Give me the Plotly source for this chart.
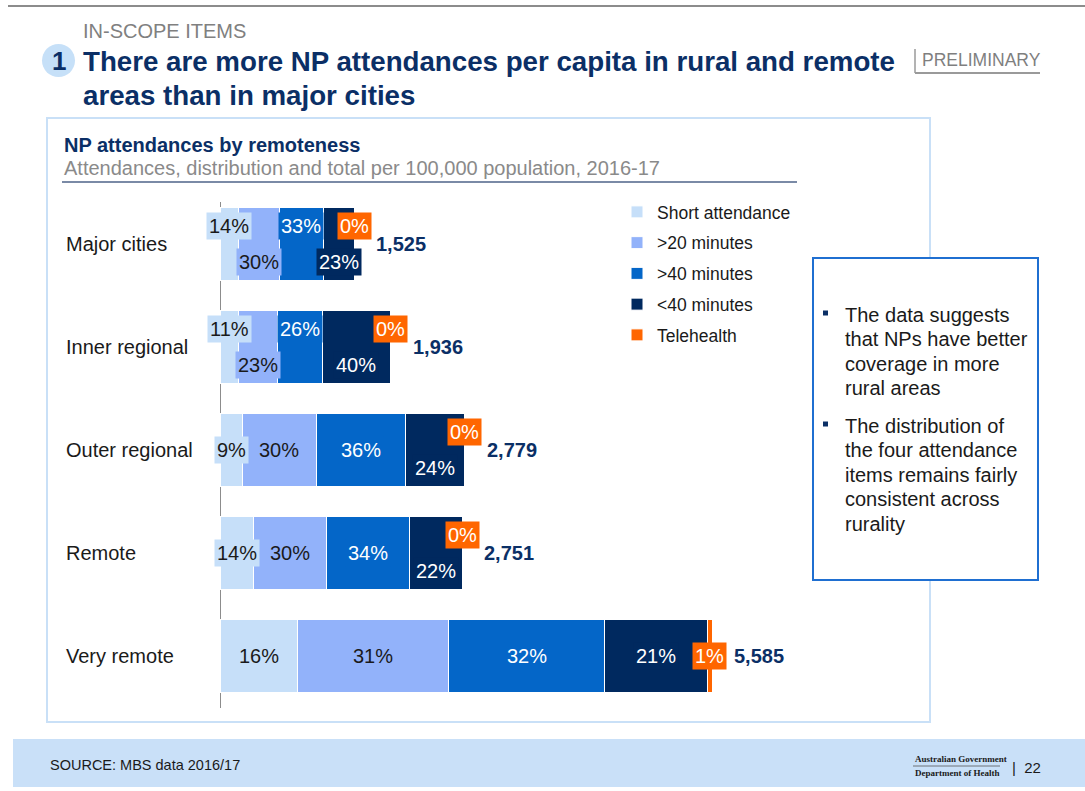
import plotly.graph_objects as go

# ---------------- data ----------------
categories = ["Major cities", "Inner regional", "Outer regional", "Remote", "Very remote"]
totals = [1525, 1936, 2779, 2751, 5585]
series_names = ["Short attendance", ">20 minutes", ">40 minutes", "<40 minutes", "Telehealth"]
short_pct = [14, 11, 9, 14, 16]
min20_pct = [30, 23, 30, 30, 31]
min40_pct = [33, 26, 36, 34, 32]
lt40_pct = [23, 40, 24, 22, 21]
tele_pct = [0, 0, 0, 0, 1]
series_pcts = [short_pct, min20_pct, min40_pct, lt40_pct, tele_pct]

# ---------------- style ----------------
colors = ["#c6dff9", "#92b2fa", "#0466c8", "#00295f", "#ff6600"]
label_font_colors = ["#1a1a1a", "#1a1a1a", "white", "white", "white"]
NAVY = "#0b2f66"
FONT = "Liberation Sans, Arial, sans-serif"
# label vertical placement per category per series: -1 top, 0 middle, +1 bottom
placement = [
    [-1, 1, -1, 1, -1],
    [-1, 1, -1, 1, -1],
    [0, 0, 0, 1, -1],
    [0, 0, 0, 1, -1],
    [0, 0, 0, 0, 0],
]

W, H = 1085, 791
def px(x):
    return x / W
def py(y):
    return 1 - y / H

# axis geometry (pixels)
X0_PX, XMAX_PX, X_DOM_END_PX = 220, 712, 940
ymax = max(totals)
x_range_max = ymax * (X_DOM_END_PX - X0_PX) / (XMAX_PX - X0_PX)

fig = go.Figure()

# segment widths from percentage shares of each total
seg_values = []
for i in range(len(categories)):
    s = sum(p[i] for p in series_pcts)
    seg_values.append([p[i] / s * totals[i] for p in series_pcts])

for j, name in enumerate(series_names):
    fig.add_trace(go.Bar(
        y=categories,
        x=[seg_values[i][j] for i in range(len(categories))],
        orientation="h",
        name=name,
        legendgroup=name,
        marker=dict(color=colors[j], line=dict(color="white", width=1)),
        width=0.7,
        hoverinfo="skip",
    ))

annotations = []
shapes = []

def ptext(x, y, text, size, color, xanchor="left", family=FONT):
    annotations.append(dict(x=px(x), y=py(y), xref="paper", yref="paper", text=text, showarrow=False,
                            xanchor=xanchor, yanchor="middle",
                            font=dict(family=family, size=size, color=color)))

# segment labels
for i, cat in enumerate(categories):
    cum = 0
    for j in range(len(series_names)):
        v = seg_values[i][j]
        mid = cum + v / 2
        cum += v
        annotations.append(dict(
            x=mid, y=cat, xref="x", yref="y",
            text=f"{series_pcts[j][i]}%",
            showarrow=False, xanchor="center", yanchor="middle",
            font=dict(family=FONT, size=20, color=label_font_colors[j]),
            bgcolor=colors[j], borderpad=2,
            yshift=-18 * placement[i][j],
        ))
    # total label
    annotations.append(dict(
        x=totals[i], y=cat, xref="x", yref="y",
        text=f"<b>{totals[i]:,}</b>", showarrow=False, xanchor="left", yanchor="middle", xshift=20,
        font=dict(family=FONT, size=20, color=NAVY),
    ))
    # category label
    annotations.append(dict(
        x=px(64), y=cat, xref="paper", yref="y", xanchor="left", yanchor="middle",
        text=cat, showarrow=False,
        font=dict(family=FONT, size=20, color="#1a1a1a"),
    ))

# top rule
shapes.append(dict(type="line", xref="paper", yref="paper", x0=px(8), x1=px(1085), y0=py(6), y1=py(6),
                   line=dict(color="#8c8c8c", width=2)))
# number circle
shapes.append(dict(type="circle", xref="paper", yref="paper", x0=px(42), x1=px(75), y0=py(44), y1=py(77),
                   fillcolor="#c6e0f8", line=dict(width=0)))
ptext(58.5, 61, "<b>1</b>", 26, NAVY, xanchor="center")
ptext(81, 31, "IN-SCOPE ITEMS", 20, "#808080")
title_lines = ["There are more NP attendances per capita in rural and remote", "areas than in major cities"]
for k, t in enumerate(title_lines):
    ptext(81, 61 + 34 * k, f"<b>{t}</b>", 27.7, NAVY)
# PRELIMINARY tag
ptext(920, 60, "PRELIMINARY", 17.5, "#7f7f7f")
shapes.append(dict(type="line", xref="paper", yref="paper", x0=px(915), x1=px(915), y0=py(49), y1=py(73),
                   line=dict(color="#9a9a9a", width=1.5)))
shapes.append(dict(type="line", xref="paper", yref="paper", x0=px(915), x1=px(1040), y0=py(73), y1=py(73),
                   line=dict(color="#9a9a9a", width=2)))

# chart panel
shapes.append(dict(type="rect", xref="paper", yref="paper", x0=px(47), x1=px(930), y0=py(118), y1=py(722),
                   line=dict(color="#c9e0f7", width=2), layer="below"))
ptext(62, 145, "<b>NP attendances by remoteness</b>", 20, NAVY)
ptext(62, 168, "Attendances, distribution and total per 100,000 population, 2016-17", 20, "#8a8a8a")
shapes.append(dict(type="line", xref="paper", yref="paper", x0=px(62), x1=px(797), y0=py(182), y1=py(182),
                   line=dict(color="#7a8aa6", width=2)))
# vertical axis line
shapes.append(dict(type="line", xref="x", yref="paper", x0=0, x1=0, y0=py(708), y1=py(202),
                   line=dict(color="#8c8c8c", width=2), layer="below"))

# commentary box
shapes.append(dict(type="rect", xref="paper", yref="paper", x0=px(813), x1=px(1038), y0=py(258), y1=py(580),
                   fillcolor="white", line=dict(color="#1f6fd1", width=2), layer="above"))
bullets = [
    ["The data suggests", "that NPs have better", "coverage in more", "rural areas"],
    ["The distribution of", "the four attendance", "items remains fairly", "consistent across", "rurality"],
]
bullet_tops = [315, 426]
for b, lines in enumerate(bullets):
    y0 = bullet_tops[b]
    shapes.append(dict(type="rect", xref="paper", yref="paper", x0=px(823), x1=px(828),
                       y0=py(y0 - 4.5), y1=py(y0 + 0.5), fillcolor=NAVY, line=dict(width=0), layer="above"))
    for k, t in enumerate(lines):
        ptext(843, y0 + 24.4 * k, t, 20, "#1a1a1a")

# footer
shapes.append(dict(type="rect", xref="paper", yref="paper", x0=px(13), x1=px(1085), y0=py(739), y1=py(787),
                   fillcolor="#c9e0f8", line=dict(width=0), layer="below"))
ptext(48, 765, "SOURCE: MBS data 2016/17", 14.5, "#1a1a1a")
ptext(913, 759, "<b>Australian Government</b>", 9, "#1a1a1a", family="Liberation Serif, serif")
ptext(913, 773, "<b>Department of Health</b>", 9, "#1a1a1a", family="Liberation Serif, serif")
shapes.append(dict(type="line", xref="paper", yref="paper", x0=px(913), x1=px(1000), y0=py(766), y1=py(766),
                   line=dict(color="#555555", width=0.8)))
ptext(1010, 767, "|  22", 15, "#1a1a1a")

fig.update_layout(
    width=W, height=H,
    margin=dict(l=0, r=0, t=0, b=0),
    paper_bgcolor="white", plot_bgcolor="rgba(0,0,0,0)",
    barmode="stack", bargap=0.3,
    font=dict(family=FONT),
    xaxis=dict(domain=[px(X0_PX), px(X_DOM_END_PX)], range=[0, x_range_max], visible=False, fixedrange=True),
    yaxis=dict(domain=[py(707.5), py(192.5)], type="category", range=[len(categories) - 0.5, -0.5],
               visible=False, fixedrange=True),
    showlegend=True,
    legend=dict(x=px(617), y=py(194), xanchor="left", yanchor="top", traceorder="grouped",
                tracegroupgap=5, font=dict(family=FONT, size=17.5, color="#1a1a1a"),
                bgcolor="rgba(0,0,0,0)", itemclick=False, itemdoubleclick=False),
    annotations=annotations,
    shapes=shapes,
)

fig.write_html("out.html", config={"displayModeBar": False},
               post_script="document.body.style.margin='0';document.body.style.overflow='hidden';")
